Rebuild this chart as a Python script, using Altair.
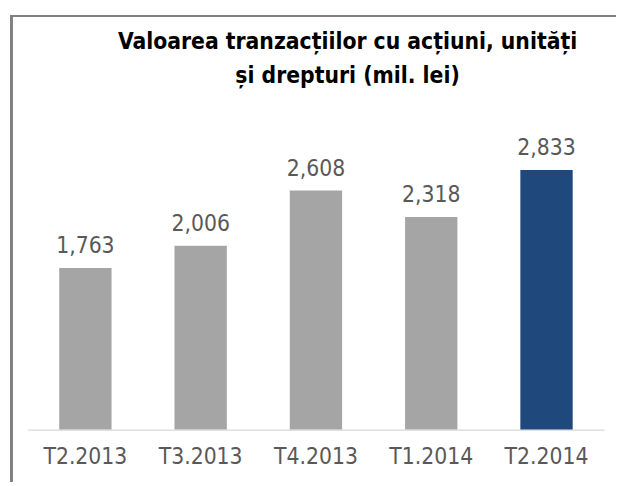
import altair as alt
import pandas as pd

categories = ["T2.2013", "T3.2013", "T4.2013", "T1.2014", "T2.2014"]
values = [1763, 2006, 2608, 2318, 2833]
highlight = [False, False, False, False, True]
title_lines = ["Valoarea tranzacțiilor cu acțiuni, unități", "și drepturi (mil. lei)"]

df = pd.DataFrame({"cat": categories, "val": values, "hl": highlight})
df["label"] = df["val"].map(lambda v: f"{v:,}")

NARROW = "Liberation Sans Narrow, Arial Narrow, DejaVu Sans Condensed, sans-serif"

x = alt.X("cat:N", sort=categories, title=None,
          scale=alt.Scale(paddingInner=0.546, paddingOuter=0.273),
          axis=alt.Axis(labelAngle=0, ticks=False, labelPadding=16,
                        labelFont=NARROW, labelFontSize=23, labelColor="#595959",
                        domainColor="#D9D9D9", domainWidth=1.3, grid=False))
y = alt.Y("val:Q", title=None, scale=alt.Scale(domain=[0, 3500]), axis=None)

bars = alt.Chart(df).mark_bar().encode(
    x=x, y=y,
    color=alt.Color("hl:N", scale=alt.Scale(domain=[False, True], range=["#A5A5A5", "#1F497D"]), legend=None),
)

labels = alt.Chart(df).mark_text(baseline="alphabetic", dy=-15, font=NARROW, fontSize=23, color="#595959").encode(
    x=alt.X("cat:N", sort=categories), y="val:Q", text="label:N"
)

title = alt.Chart(pd.DataFrame({"t": [0]})).mark_text(
    text=title_lines, font=NARROW, fontSize=23, fontWeight="bold", color="#000000",
    align="center", baseline="alphabetic", lineHeight=35,
).encode(x=alt.value(324), y=alt.value(-61))

frame_left = alt.Chart(df).mark_rule(color="#808080", strokeWidth=2).encode(
    x=alt.value(-16.5), y=alt.value(-94), y2=alt.value(380)
)
frame_top = alt.Chart(df).mark_rule(color="#808080", strokeWidth=2).encode(
    x=alt.value(-17.5), x2=alt.value(620), y=alt.value(-94)
)

chart = alt.layer(frame_left, frame_top, title, bars, labels).properties(
    width=584, height=325,
    autosize=alt.AutoSizeParams(type="none"),
    padding={"left": 20, "top": 99, "right": 12, "bottom": 50},
).configure_view(stroke=None)

chart.save("out.html", embed_options={"renderer": "svg", "actions": False})
